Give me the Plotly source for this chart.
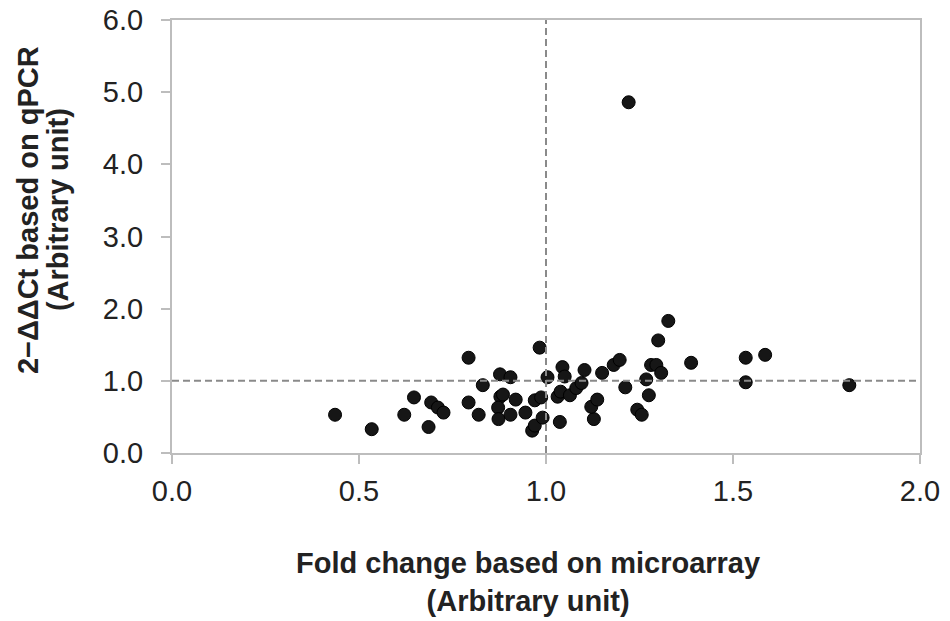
import plotly.graph_objects as go

# fold change (microarray) vs 2^-ddCt (qPCR)
fold_change = [
    0.436, 0.534, 0.621, 0.647, 0.686, 0.693, 0.711, 0.726, 0.793, 0.793,
    0.820, 0.831, 0.877, 0.905, 0.878, 0.885, 0.872, 0.873, 0.905, 0.919,
    0.945, 0.963, 0.970, 0.970, 0.983, 0.987, 0.991, 1.004, 1.037, 1.031,
    1.039, 1.044, 1.050, 1.064, 1.081, 1.095, 1.103, 1.128, 1.121, 1.137,
    1.150, 1.181, 1.197, 1.212, 1.244, 1.256, 1.268, 1.275, 1.281, 1.295,
    1.308, 1.300, 1.327, 1.388, 1.534, 1.534, 1.586, 1.811, 1.221,
]
qpcr = [
    0.53, 0.33, 0.53, 0.77, 0.36, 0.70, 0.63, 0.56, 1.32, 0.70,
    0.53, 0.94, 1.09, 1.05, 0.78, 0.81, 0.63, 0.47, 0.53, 0.74,
    0.56, 0.31, 0.38, 0.73, 1.46, 0.77, 0.49, 1.05, 0.43, 0.78,
    0.85, 1.19, 1.06, 0.80, 0.90, 0.97, 1.15, 0.47, 0.64, 0.74,
    1.11, 1.22, 1.29, 0.91, 0.60, 0.53, 1.02, 0.80, 1.22, 1.22,
    1.11, 1.56, 1.83, 1.25, 1.32, 0.98, 1.36, 0.94, 4.86,
]

ref_x = 1.0
ref_y = 1.0

FONT = "Liberation Sans, Arial, sans-serif"
AXIS_GREY = "#bdbdbd"

fig = go.Figure()
fig.add_trace(go.Scatter(
    x=fold_change, y=qpcr, mode="markers",
    marker=dict(size=13, color="#161616", line=dict(width=1, color="#000000")),
    showlegend=False,
))

fig.add_vline(x=ref_x, line=dict(color="#8a8a8a", width=2, dash="7px,4px"))
fig.add_hline(y=ref_y, line=dict(color="#8a8a8a", width=2, dash="7px,4px"))

axis_common = dict(
    showgrid=False, zeroline=False, automargin=False,
    showline=True, linecolor=AXIS_GREY, linewidth=2, mirror=True,
    ticks="outside", ticklen=9, tickwidth=2, tickcolor=AXIS_GREY,
    tickformat=".1f", ticklabeloverflow="allow",
    tickfont=dict(family=FONT, size=29, color="#222222"),
)
fig.update_xaxes(range=[0, 2], dtick=0.5, tick0=0, ticklabelstandoff=2, **axis_common)
fig.update_yaxes(range=[0, 6], dtick=1, tick0=0, ticklabelstandoff=12, **axis_common)

title_font = dict(family=FONT, size=29, color="#222222")
fig.add_annotation(
    text="<b>Fold change based on microarray<br>(Arbitrary unit)</b>",
    xref="paper", yref="paper", x=0.476, y=-0.298,
    xanchor="center", yanchor="middle",
    showarrow=False, font=title_font, align="center",
)
fig.add_annotation(
    text="<b>2\u2212\u0394\u0394Ct based on qPCR</b>",
    xref="paper", yref="paper", x=-0.1925, y=0.561, textangle=-90,
    xanchor="center", yanchor="middle",
    showarrow=False, font=title_font,
)
fig.add_annotation(
    text="<b>(Arbitrary unit)</b>",
    xref="paper", yref="paper", x=-0.1524, y=0.561, textangle=-90,
    xanchor="center", yanchor="middle",
    showarrow=False, font=title_font,
)

# page body adds an 8px offset, so the figure is sized to fit inside the window
fig.update_layout(
    width=942, height=613,
    margin=dict(l=164, r=30, t=12, b=168),
    plot_bgcolor="white", paper_bgcolor="white",
)

fig.write_html("out.html")
